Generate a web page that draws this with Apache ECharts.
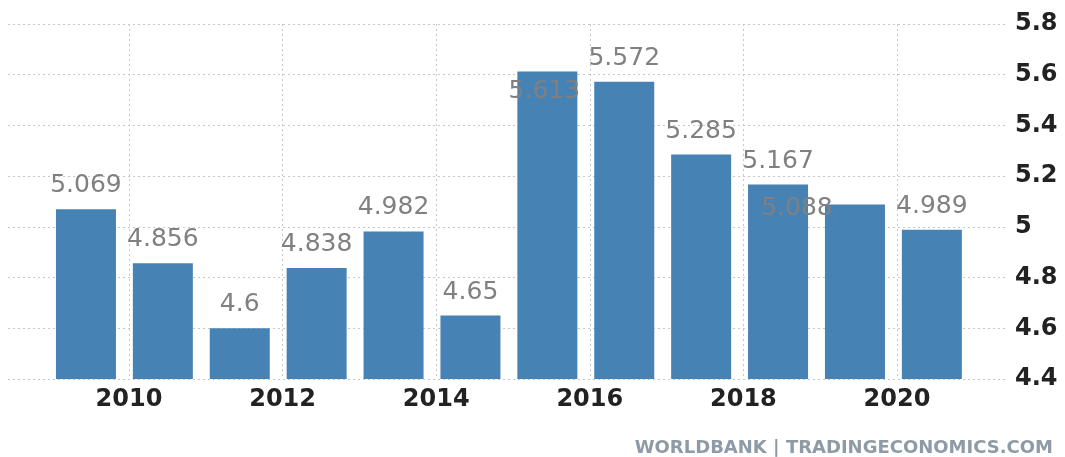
<!DOCTYPE html>
<html>
<head>
<meta charset="utf-8">
<script src="https://cdn.jsdelivr.net/npm/echarts@6/dist/echarts.min.js"></script>
<style>
html,body{margin:0;padding:0;background:#fff;}
#chart{width:1065px;height:457px;}
</style>
</head>
<body>
<div id="chart"></div>
<script>
const years = ['2009','2010','2011','2012','2013','2014','2015','2016','2017','2018','2019','2020'];
const values = [5.069, 4.856, 4.6, 4.838, 4.982, 4.65, 5.613, 5.572, 5.285, 5.167, 5.088, 4.989];
const yTicks = [4.4, 4.6, 4.8, 5.0, 5.2, 5.4, 5.6, 5.8];
const xTicks = [2010, 2012, 2014, 2016, 2018, 2020];
const sourceText = 'WORLDBANK | TRADINGECONOMICS.COM';

const FONT = 'DejaVu Sans';
const gridLine = {show: true, lineStyle: {color: '#c8c8c8', type: [2, 3], width: 1}};
const hidden = {show: false};

// label tweaks for two labels that were displaced in the original
const labelTweaks = {6: [-3, 44], 10: [-58, 27]};

const barData = values.map((v, i) => {
  const d = {value: v};
  if (labelTweaks[i]) d.label = {offset: labelTweaks[i]};
  return d;
});

const chart = echarts.init(document.getElementById('chart'), null, {renderer: 'canvas'});
chart.setOption({
  animation: false,
  backgroundColor: '#ffffff',
  grid: [
    {left: 8, right: 58, top: 24, bottom: 78},
    {left: 47.5, right: 94.7, top: 24, bottom: 78},
    {left: 129, right: 168, top: 24, bottom: 78}
  ],
  xAxis: [
    {gridIndex: 0, type: 'value', min: 0, max: 1, axisLine: hidden, axisTick: hidden, axisLabel: hidden, splitLine: hidden},
    {gridIndex: 1, type: 'category', data: years, axisLine: hidden, axisTick: hidden, axisLabel: hidden, splitLine: hidden},
    {gridIndex: 2, type: 'value', min: xTicks[0], max: xTicks[xTicks.length - 1], interval: 2,
      axisLine: hidden, axisTick: hidden, splitLine: gridLine,
      axisLabel: {show: true, margin: 9, color: '#222', fontFamily: FONT, fontWeight: 'bold', fontSize: 24,
        formatter: v => String(v)}}
  ],
  yAxis: [
    {gridIndex: 0, type: 'value', position: 'right', min: yTicks[0], max: yTicks[yTicks.length - 1], interval: 0.2,
      axisLine: hidden, axisTick: hidden, splitLine: gridLine,
      axisLabel: {show: true, margin: 8, color: '#222', fontFamily: FONT, fontWeight: 'bold', fontSize: 24,
        formatter: v => String(Math.round(v * 10) / 10)}},
    {gridIndex: 1, type: 'value', min: yTicks[0], max: yTicks[yTicks.length - 1], interval: 0.2,
      axisLine: hidden, axisTick: hidden, axisLabel: hidden, splitLine: hidden},
    {gridIndex: 2, type: 'value', min: 0, max: 1, axisLine: hidden, axisTick: hidden, axisLabel: hidden, splitLine: hidden}
  ],
  series: [{
    type: 'bar',
    xAxisIndex: 1,
    yAxisIndex: 1,
    data: barData,
    barWidth: 60,
    itemStyle: {color: '#4682b4'},
    label: {
      show: true, position: 'top', distance: 11,
      color: '#808080', fontFamily: FONT, fontSize: 25,
      formatter: p => String(p.value)
    }
  }],
  graphic: [{
    type: 'text', right: 12, bottom: 0,
    style: {text: sourceText, fill: '#8e9aa6', font: 'bold 18px "DejaVu Sans"'}
  }]
});
</script>
</body>
</html>
